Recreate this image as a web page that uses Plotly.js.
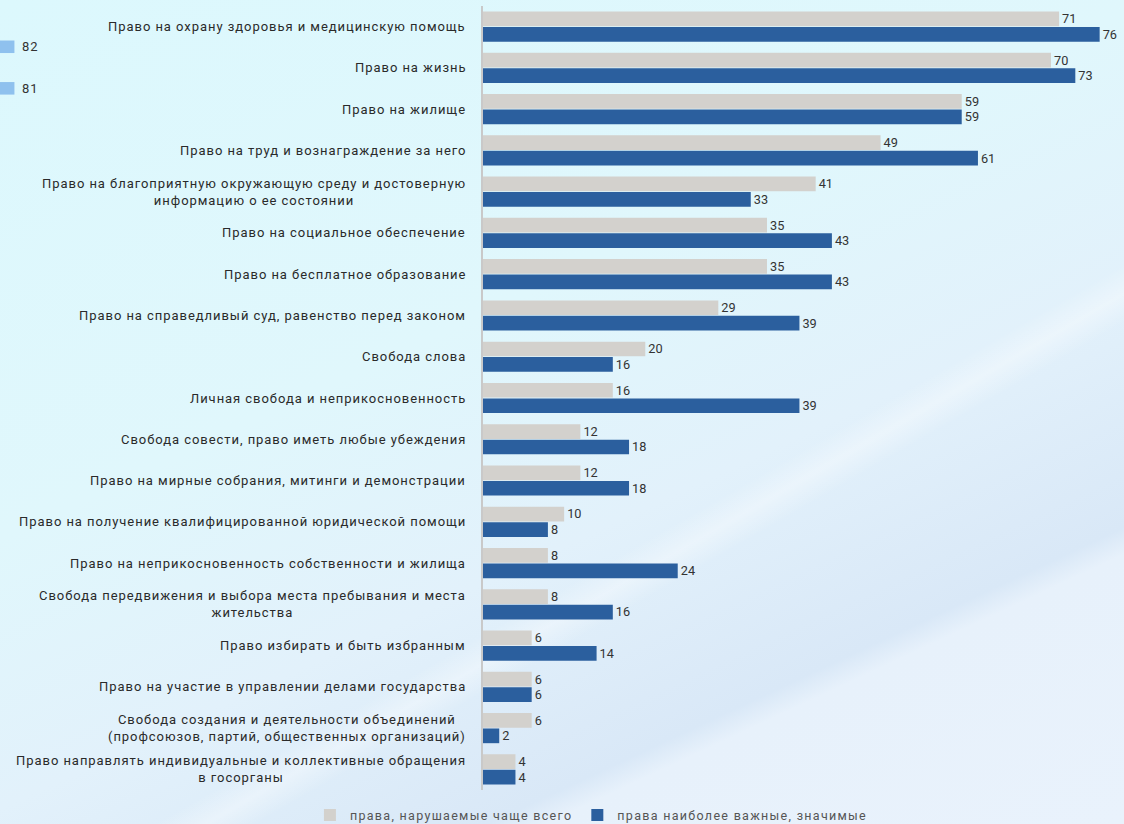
<!DOCTYPE html>
<html>
<head>
<meta charset="utf-8">
<script src="https://cdn.plot.ly/plotly-3.0.1.min.js"></script>
<style>
html,body{margin:0;padding:0;width:1124px;height:824px;overflow:hidden;}
body{background:
 linear-gradient(150deg, rgba(255,255,255,0) 0%, rgba(255,255,255,0) 62%, rgba(255,255,255,0.35) 64%, rgba(255,255,255,0) 66%, rgba(255,255,255,0) 100%),
 linear-gradient(155deg, #dcf8fd 0%, #e0f7fc 40%, #e2f1fb 60%, #d9e8f7 78%, #e7f1fb 80%, #e9f2fc 100%);}
#chart{width:1124px;height:824px;}
.annotation-text{letter-spacing:0.95px;}
.legendtext{letter-spacing:1.3px;}
</style>
</head>
<body>
<div id="chart"></div>
<script>
const categories = [
  "Право на охрану здоровья и медицинскую помощь",
  "Право на жизнь",
  "Право на жилище",
  "Право на труд и вознаграждение за него",
  "Право на благоприятную окружающую среду и достоверную<br>информацию о ее состоянии",
  "Право на социальное обеспечение",
  "Право на бесплатное образование",
  "Право на справедливый суд, равенство перед законом",
  "Свобода слова",
  "Личная свобода и неприкосновенность",
  "Свобода совести, право иметь любые убеждения",
  "Право на мирные собрания, митинги и демонстрации",
  "Право на получение квалифицированной юридической помощи",
  "Право на неприкосновенность собственности и жилища",
  "Свобода передвижения и выбора места пребывания и места<br>жительства",
  "Право избирать и быть избранным",
  "Право на участие в управлении делами государства",
  "Свобода создания и деятельности объединений<br>(профсоюзов, партий, общественных организаций)",
  "Право направлять индивидуальные и коллективные обращения<br>в госорганы"
];
const violatedMost = [71, 70, 59, 49, 41, 35, 35, 29, 20, 16, 12, 12, 10, 8, 8, 6, 6, 6, 4];
const mostImportant = [76, 73, 59, 61, 33, 43, 43, 39, 16, 39, 18, 18, 8, 24, 16, 14, 6, 2, 4];
const seriesNames = ["права, нарушаемые чаще всего", "права наиболее важные, значимые"];
const strayValues = ["82", "81"];

const FONT = "Roboto, 'DejaVu Sans', sans-serif";

const traces = [
  {
    type: "bar", orientation: "h", name: seriesNames[0],
    y: categories, x: violatedMost,
    marker: {color: "#d3d1cd"},
    text: violatedMost.map(String), textposition: "outside",
    textfont: {family: FONT, size: 13, color: "#333"},
    cliponaxis: false, hoverinfo: "x+y"
  },
  {
    type: "bar", orientation: "h", name: seriesNames[1],
    y: categories, x: mostImportant,
    marker: {color: "#2b5f9e"},
    text: mostImportant.map(String), textposition: "outside",
    textfont: {family: FONT, size: 13, color: "#333"},
    cliponaxis: false, hoverinfo: "x+y"
  }
];

const labelAnnotations = categories.map(c => ({
  xref: "x", yref: "y", x: 0, y: c, xanchor: "right", yanchor: "middle",
  xshift: -15, text: c, showarrow: false, align: "center",
  font: {family: FONT, size: 13, color: "#2a2a2a"}
}));

const strayAnnotations = strayValues.map((v, i) => ({
  xref: "paper", yref: "paper", x: -0.722, y: i === 0 ? 0.948 : 0.895,
  xanchor: "left", yanchor: "middle", text: v, showarrow: false,
  font: {family: FONT, size: 13, color: "#333"}
}));

const strayShapes = strayValues.map((v, i) => ({
  type: "rect", xref: "paper", yref: "paper",
  x0: -0.7535, x1: -0.731,
  y0: i === 0 ? 0.940 : 0.887, y1: i === 0 ? 0.956 : 0.903,
  fillcolor: "#8fc1ee", line: {width: 0}
}));

const layout = {
  width: 1124, height: 824,
  margin: {l: 483, r: 0, t: 6, b: 34, autoexpand: false},
  paper_bgcolor: "rgba(0,0,0,0)", plot_bgcolor: "rgba(0,0,0,0)",
  barmode: "group", bargap: 0.25, bargroupgap: 0.05,
  font: {family: FONT, size: 13, color: "#333"},
  xaxis: {range: [0, 79], showgrid: false, zeroline: false, showticklabels: false, ticks: "", fixedrange: true},
  yaxis: {autorange: "reversed", showticklabels: false, ticks: "", showgrid: false,
          showline: true, linecolor: "#c9c9c9", linewidth: 2, zeroline: false},
  showlegend: true,
  legend: {orientation: "h", x: -0.27, xanchor: "left", y: -0.0325, yanchor: "middle",
           bgcolor: "rgba(0,0,0,0)", font: {family: FONT, size: 12.5, color: "#555"},
           traceorder: "normal", itemwidth: 30},
  annotations: labelAnnotations.concat(strayAnnotations),
  shapes: strayShapes
};

Plotly.newPlot("chart", traces, layout, {displayModeBar: false, staticPlot: true});
</script>
</body>
</html>
